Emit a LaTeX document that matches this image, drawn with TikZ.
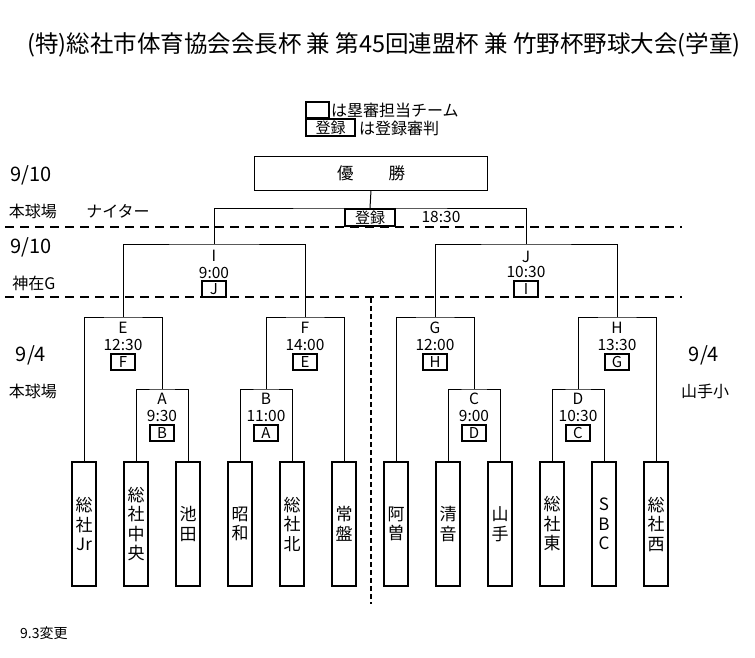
\documentclass[tikz,border=0pt]{standalone}
\usepackage{fontspec}
\setmainfont{Noto Sans CJK JP}
\begin{document}
\begin{tikzpicture}[x=1pt,y=-1pt,
  bl/.style={line width=1pt},
  team/.style={draw, line width=2.5pt, minimum width=24pt, minimum height=124pt, inner sep=0pt, align=center, font=\fontsize{17}{19.5}\selectfont},
  refbox/.style={draw, line width=2pt, minimum width=24pt, minimum height=16pt, inner sep=0pt, font=\fontsize{15}{15}\selectfont},
  lbl/.style={inner sep=0pt, font=\fontsize{15.5}{15.5}\selectfont},
  side/.style={inner sep=0pt, font=\fontsize{16}{16}\selectfont},
  date/.style={inner sep=0pt, font=\fontsize{20}{20}\selectfont},
  sect/.style={dash pattern=on 9pt off 6pt, line width=2.5pt},
  vsect/.style={dash pattern=on 5pt off 3pt, line width=2.3pt}
]
\useasboundingbox (0,0) rectangle (755,657);

% title
\node[inner sep=0pt, font=\fontsize{23.5}{24}\selectfont] (title) at (384,45) {(特)総社市体育協会会長杯 兼 第45回連盟杯 兼 竹野杯野球大会(学童)};

% legend
\node[draw, line width=2pt, minimum width=23pt, minimum height=16pt, inner sep=0pt] (lg1) at (317,110) {};
\node[draw, line width=2pt, minimum width=49pt, minimum height=17pt, inner sep=0pt, font=\fontsize{15}{15}\selectfont] (lg2) at (330.5,127.5) {登録};
\node[anchor=west, inner sep=0pt, font=\fontsize{16}{16}\selectfont] (lgt1) at (331,110) {は塁審担当チーム};
\node[anchor=west, inner sep=0pt, font=\fontsize{16}{16}\selectfont] (lgt2) at (359,128) {は登録審判};

% section lines
\coordinate (s1a) at (5,227); \coordinate (s1b) at (682,227);
\coordinate (s2a) at (5,297); \coordinate (s2b) at (682,297);
\coordinate (v1a) at (371,298); \coordinate (v1b) at (371,604);
\draw[sect] (s1a) -- (s1b);
\draw[sect] (s2a) -- (s2b);
\draw[vsect] (v1a) -- (v1b);

% side labels
\node[date] (d1) at (31,175) {9/10};
\node[side] (p1) at (33,211) {本球場};
\node[side] (p1b) at (118,211) {ナイター};
\node[date] (d2) at (31,247) {9/10};
\node[side] (p2) at (34,283) {神在G};
\node[date] (d3) at (31,355) {9/4};
\node[side] (p3) at (33,391) {本球場};
\node[date] (d4) at (704,355) {9/4};
\node[side] (p4) at (705,391) {山手小};
\node[anchor=west, inner sep=0pt, font=\fontsize{14}{14}\selectfont] (note) at (20,633) {9.3変更};

% winner
\node[draw, line width=1pt, minimum width=233pt, minimum height=34pt, inner sep=0pt, font=\fontsize{16.5}{16.5}\selectfont] (win) at (371,173) {優\hspace{35pt}勝};

% teams
\node[team] (t1) at (84,524) {総\\社\\Jr};
\node[team] (t2) at (136,524) {総\\社\\中\\央};
\node[team] (t3) at (188,524) {池\\田};
\node[team] (t4) at (240,524) {昭\\和};
\node[team] (t5) at (292,524) {総\\社\\北};
\node[team] (t6) at (344,524) {常\\盤};
\node[team] (t7) at (396,524) {阿\\曽};
\node[team] (t8) at (448,524) {清\\音};
\node[team] (t9) at (500,524) {山\\手};
\node[team] (t10) at (552,524) {総\\社\\東};
\node[team] (t11) at (604,524) {S\\B\\C};
\node[team] (t12) at (656,524) {総\\社\\西};

% match points
\coordinate (mA) at (162,389);
\coordinate (mB) at (266,389);
\coordinate (mC) at (474,389);
\coordinate (mD) at (578,389);
\coordinate (mE) at (123,317);
\coordinate (mF) at (305,317);
\coordinate (mG) at (435,317);
\coordinate (mH) at (617,317);
\coordinate (mI) at (214,244);
\coordinate (mJ) at (526,244);
\coordinate (mK) at (370,208);

% brackets
\draw[bl] (t2.north) |- (mA) -| (t3.north);
\draw[bl] (t4.north) |- (mB) -| (t5.north);
\draw[bl] (t8.north) |- (mC) -| (t9.north);
\draw[bl] (t10.north) |- (mD) -| (t11.north);
\draw[bl] (t1.north) |- (mE) -| (mA);
\draw[bl] (mB) |- (mF) -| (t6.north);
\draw[bl] (t7.north) |- (mG) -| (mC);
\draw[bl] (mD) |- (mH) -| (t12.north);
\draw[bl] (mE) |- (mI) -| (mF);
\draw[bl] (mG) |- (mJ) -| (mH);
\draw[bl] (mI) |- (mK) -| (mJ);
\draw[bl] (win.south) -- (mK);

% final referee
\node[draw, line width=2pt, minimum width=50pt, minimum height=17pt, inner sep=0pt, font=\fontsize{15}{15}\selectfont] (reg) at (370,217.5) {登録};
\node[lbl] (tK) at (441,217) {18:30};

% match labels
\node[lbl] (nI) at (214,256) {I};
\node[lbl] (tI) at (214,273) {9:00};
\node[refbox] (rI) at (214,289) {J};
\node[lbl] (nJ) at (526,257) {J};
\node[lbl] (tJ) at (526,272) {10:30};
\node[refbox] (rJ) at (526,289) {I};

\node[lbl] (nE) at (123,328) {E};
\node[lbl] (tE) at (123,345) {12:30};
\node[refbox] (rE) at (123,362) {F};
\node[lbl] (nF) at (305,328) {F};
\node[lbl] (tF) at (305,345) {14:00};
\node[refbox] (rF) at (305,362) {E};
\node[lbl] (nG) at (435,328) {G};
\node[lbl] (tG) at (435,345) {12:00};
\node[refbox] (rG) at (435,362) {H};
\node[lbl] (nH) at (617,328) {H};
\node[lbl] (tH) at (617,345) {13:30};
\node[refbox] (rH) at (617,362) {G};

\node[lbl] (nA) at (162,399) {A};
\node[lbl] (tA) at (162,416) {9:30};
\node[refbox] (rA) at (162,432.5) {B};
\node[lbl] (nB) at (266,399) {B};
\node[lbl] (tB) at (266,416) {11:00};
\node[refbox] (rB) at (266,432.5) {A};
\node[lbl] (nC) at (474,399) {C};
\node[lbl] (tC) at (474,416) {9:00};
\node[refbox] (rC) at (474,432.5) {D};
\node[lbl] (nD) at (578,399) {D};
\node[lbl] (tD) at (578,416) {10:30};
\node[refbox] (rD) at (578,432.5) {C};
\end{tikzpicture}
\end{document}
